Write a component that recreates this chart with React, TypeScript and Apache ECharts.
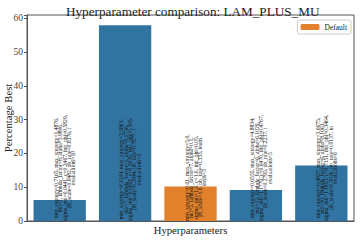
import React, { useEffect, useRef } from "react";
import * as echarts from "echarts";

const categories = ["cfg1", "cfg2", "default", "cfg4", "cfg5"];
const blueValues = [6.2, 58.0, null, 9.2, 16.4];
const defaultValues = [null, null, 10.2, null, null];
const barLabels = [
  "min_strategy=0.7165, max_strategy=1.4876,\nmu=5, lambda_factor=8, alpha=3.9806,\nsigma_init=0.0441, c=0.2467, init_phi=0.5829,\npb_scale=0.0482, pb_rate=0.0376, t\nevaluations=10",
  "min_strategy=0.1104, max_strategy=3.5861,\nmu=7, lambda_factor=1, alpha=8.1756,\nsigma_init=0.0061, c=0.3636, init_phi=0.105,\npb_scale=0.2944, pb_rate=0.7677, t\nevaluations=5",
  "min_strategy=0.01, max_strategy=5.0,\nmu=2, lambda_factor=7, alpha=0.1,\nsigma_init=1.0, c=1.0, init_phi=0.05,\npb_scale=1.0, pb_rate=0.333, learn\nsteps=3",
  "min_strategy=0.6555, max_strategy=4.8834,\nmu=12, lambda_factor=6, alpha=6.1029,\nsigma_init=1.1779, c=0.0470, init_phi=0.4767,\npb_scale=0.2795, pb_rate=0.2237, t\nevaluations=5",
  "min_strategy=0.4857, max_strategy=3.0675,\nmu=10, lambda_factor=6, alpha=8.1061,\nsigma_init=1.1813, c=0.7351, init_phi=0.3464,\npb_scale=0.3036, pb_rate=0.0137, lo\nevaluations=6",
];

const FONT = "'Liberation Serif', 'DejaVu Serif', serif";
const LABEL_SIZE = 5.6;

function longestLineWidth(text: string): number {
  const c = document.createElement("canvas").getContext("2d");
  if (!c) return 100;
  c.font = `${LABEL_SIZE}px 'Liberation Serif'`;
  return Math.max(...text.split("\n").map((l) => c.measureText(l).width));
}

export default function App() {
  const ref = useRef<HTMLDivElement>(null);
  useEffect(() => {
    if (!ref.current) return;
    const chart = echarts.init(ref.current, undefined, { renderer: "svg" });
    const mkData = (vals: (number | null)[]) =>
      vals.map((v, i) =>
        v == null
          ? null
          : {
              value: v,
              label: { offset: [longestLineWidth(barLabels[i]) / 2, 5] },
            }
      );
    const labelCfg = {
      show: true,
      position: "insideBottom",
      distance: 0,
      rotate: 90,
      align: "center",
      verticalAlign: "middle",
      fontSize: LABEL_SIZE,
      lineHeight: 4.4,
      fontFamily: FONT,
      color: "#111",
      formatter: (p: any) => barLabels[p.dataIndex],
    };
    chart.setOption({
      animation: false,
      title: {
        text: "Hyperparameter comparison: LAM_PLUS_MU",
        left: 61,
        top: 0,
        textStyle: { fontFamily: FONT, fontSize: 13.2, fontWeight: "normal", color: "#222" },
      },
      legend: {
        data: ["Default"],
        right: 9,
        top: 20,
        itemWidth: 19,
        itemHeight: 6,
        itemGap: 4,
        padding: [3, 4, 3, 3],
        backgroundColor: "#fff",
        borderColor: "#ccc",
        borderWidth: 1,
        borderRadius: 2,
        textStyle: { fontFamily: FONT, fontSize: 7.5, color: "#222" },
        itemStyle: { borderWidth: 0 },
      },
      grid: {
        left: 27,
        right: 6,
        top: 15,
        bottom: 19,
        show: true,
        borderColor: "#555",
        borderWidth: 1,
        outerBoundsMode: "none",
        containLabel: false,
      },
      xAxis: {
        type: "category",
        data: categories,
        name: "Hyperparameters",
        nameLocation: "middle",
        nameGap: 3,
        nameMoveOverlap: false,
        nameTextStyle: { fontFamily: FONT, fontSize: 10.7, color: "#222", verticalAlign: "top" },
        axisLine: { lineStyle: { color: "#555" } },
        axisTick: { alignWithLabel: true, length: 3, lineStyle: { color: "#555" } },
        axisLabel: { show: false },
      },
      yAxis: {
        type: "value",
        min: 0,
        max: 61,
        interval: 10,
        name: "Percentage Best",
        nameLocation: "middle",
        nameGap: 14,
        nameMoveOverlap: false,
        nameTextStyle: { fontFamily: FONT, fontSize: 10.7, color: "#222" },
        axisLine: { show: true, lineStyle: { color: "#555" } },
        axisTick: { show: true, length: 3, lineStyle: { color: "#555" } },
        axisLabel: { fontFamily: FONT, fontSize: 9.5, color: "#444", margin: 4,
          formatter: (v: number) => (v % 10 === 0 ? String(v) : "") },
        splitLine: { show: false },
      },
      series: [
        {
          name: "Configs",
          type: "bar",
          data: mkData(blueValues),
          barCategoryGap: "20%",
          barGap: "-100%",
          itemStyle: { color: "#3274a1" },
          label: labelCfg,
        },
        {
          name: "Default",
          type: "bar",
          data: mkData(defaultValues),
          barCategoryGap: "20%",
          barGap: "-100%",
          itemStyle: { color: "#e1812c" },
          label: labelCfg,
        },
      ],
    });
    return () => chart.dispose();
  }, []);
  return <div ref={ref} style={{ width: 360, height: 240, position: "absolute", left: 0, top: 0 }} />;
}
